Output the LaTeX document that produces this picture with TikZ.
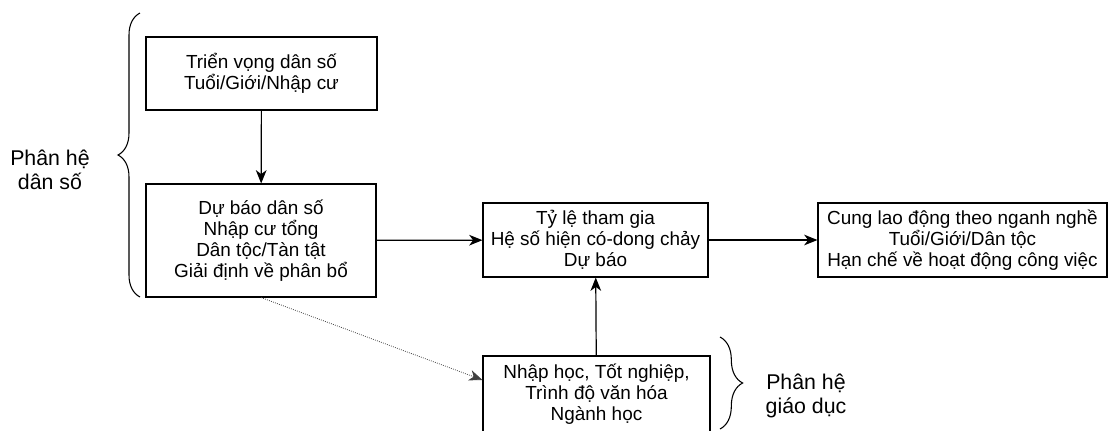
\documentclass[tikz,border=0pt]{standalone}
\usepackage{fontspec}
\setmainfont{Liberation Sans}
\usetikzlibrary{arrows.meta,decorations.pathreplacing}

\begin{document}
\begin{tikzpicture}[
    x=0.75pt, y=-0.75pt,
    every node/.style={font=\fontsize{14.2}{15.6}\selectfont},
    box/.style={draw, line width=0.8pt, align=center, inner sep=0pt},
    flow/.style={-{Stealth[length=10pt,width=8pt,inset=3pt]}, line width=0.9pt},
    weak/.style={-{Stealth[length=10pt,width=8pt,inset=3pt]}, line width=0.6pt, densely dotted, black!75},
    brc/.style={decorate, decoration={brace, amplitude=16.5pt}, line width=0.8pt},
    lbl/.style={align=center, font=\fontsize{16}{18}\selectfont},
]
\useasboundingbox (0,0) rectangle (1108,430);
\node[box, minimum width=173.25pt, minimum height=54.75pt] (trienvong) at (261.5, 73.5) {Triển vọng dân số\\Tuổi/Giới/Nhập cư};
\node[box, minimum width=172.5pt, minimum height=84.75pt] (dubao) at (261, 240.5) {Dự báo dân số\\Nhập cư tổng\\Dân tộc/Tàn tật\\Giải định về phân bổ};
\node[box, minimum width=168.75pt, minimum height=55.5pt] (tyle) at (595.5, 240) {Tỷ lệ tham gia\\Hệ số hiện có-dong chảy\\Dự báo};
\node[box, minimum width=216.75pt, minimum height=55.5pt] (cung) at (962.5, 240) {Cung lao động theo nganh nghề\\Tuổi/Giới/Dân tộc\\Hạn chế về hoạt động công việc};
\node[box, minimum width=170.25pt, minimum height=57pt] (giaoduc) at (596.5, 394) {Nhập học, Tốt nghiệp,\\Trình độ văn hóa\\Ngành học};
\node[lbl] (pdanso) at (50, 170) {Phân hệ\\dân số};
\node[lbl] (pgiaoduc) at (806, 396) {Phân hệ\\giáo dục};
% braces
\coordinate (ltop) at (140, 13);
\coordinate (lbot) at (140, 297);
\coordinate (rtop) at (720, 337);
\coordinate (rbot) at (720, 429);
\draw[brc] (lbot) -- (ltop);
\draw[brc, decoration={amplitude=17pt}] (rtop) -- (rbot);
% arrows
\draw[flow] (trienvong) -- (dubao);
\draw[flow] (dubao) -- (tyle);
\draw[flow] (tyle) -- (cung);
\draw[flow] (giaoduc) -- (tyle);
\draw[weak] (dubao.south) -- (giaoduc.173);
\end{tikzpicture}
\end{document}
